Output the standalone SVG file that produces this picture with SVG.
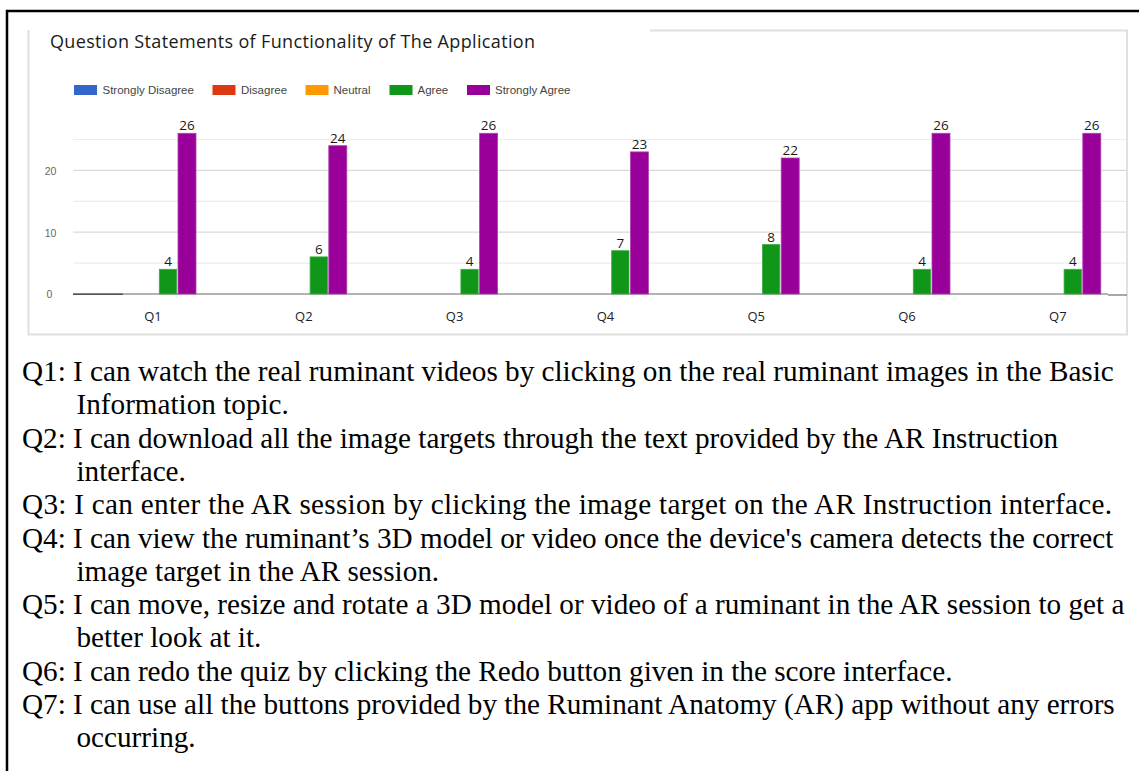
<svg xmlns="http://www.w3.org/2000/svg" width="1139" height="771" viewBox="0 0 1139 771">
  <style>
    .title { font-family: "Open Sans", "Noto Sans", sans-serif; font-size: 18px; fill: #1a1a1a; }
    .legend { font-family: "Liberation Sans", Arial, sans-serif; font-size: 11.5px; fill: #444; }
    .axis { font-family: "Liberation Sans", Arial, sans-serif; font-size: 10.5px; fill: #666; text-anchor: middle; }
    .cat { font-family: "Open Sans", "Noto Sans", sans-serif; font-size: 13px; fill: #222; text-anchor: middle; }
    .val { font-family: "Open Sans", "Noto Sans", sans-serif; font-size: 13.5px; fill: #1a1a1a; text-anchor: middle; }
    .body { font-family: "Liberation Serif", "Times New Roman", serif; font-size: 29.2px; fill: #000; }
    .grid-minor { stroke: #ececec; stroke-width: 1.2; }
    .grid-major { stroke: #d9d9d9; stroke-width: 1.3; }
    .agree { fill: #109618; stroke: #3aab40; stroke-width: 0.8; }
    .sagree { fill: #990099; stroke: #b040b0; stroke-width: 0.8; }
  </style>

  <!-- page frame: left and top rules -->
  <path d="M7,771 V11 H1139" fill="none" stroke="#000" stroke-width="2.5"/>

  <!-- chart card -->
  <g id="chart-card" fill="none" stroke="#e0e0e0" stroke-width="2">
    <path d="M28.5,30 V334.5 H1127 V30.5 H650"/>
  </g>

  <!-- title -->
  <g id="title">
    <text class="title" x="50" y="47.7" textLength="485">Question Statements of Functionality of The Application</text>
  </g>

  <!-- legend -->
  <g id="legend">
    <rect x="74" y="85" width="23" height="10" fill="#3366cc"/>
    <text class="legend" x="102.5" y="94">Strongly Disagree</text>
    <rect x="212.5" y="85" width="23" height="10" fill="#dc3912"/>
    <text class="legend" x="241" y="94">Disagree</text>
    <rect x="305.5" y="85" width="23" height="10" fill="#ff9900"/>
    <text class="legend" x="333.5" y="94">Neutral</text>
    <rect x="389.5" y="85" width="23" height="10" fill="#109618"/>
    <text class="legend" x="417.5" y="94">Agree</text>
    <rect x="467" y="85" width="23" height="10" fill="#990099"/>
    <text class="legend" x="495" y="94">Strongly Agree</text>
  </g>

  <!-- gridlines and axis -->
  <g id="grid">
    <line class="grid-minor" x1="73" y1="139.5" x2="1126" y2="139.5"/>
    <line class="grid-major" x1="73" y1="170.4" x2="1126" y2="170.4"/>
    <line class="grid-minor" x1="73" y1="201.3" x2="1126" y2="201.3"/>
    <line class="grid-major" x1="73" y1="232.2" x2="1126" y2="232.2"/>
    <line class="grid-minor" x1="73" y1="263.1" x2="1126" y2="263.1"/>
    <line x1="73" y1="294" x2="1108" y2="294" stroke="#9a9a9a" stroke-width="1.3"/>
    <line x1="73" y1="294.2" x2="123" y2="294.2" stroke="#555" stroke-width="1.6"/>
    <line x1="1108" y1="295" x2="1127" y2="295" stroke="#777" stroke-width="1.3"/>
    <text class="axis" x="50.5" y="175">20</text>
    <text class="axis" x="50.5" y="236.5">10</text>
    <text class="axis" x="49.5" y="298">0</text>
  </g>

  <!-- bars: Agree (green) and Strongly Agree (purple) per question -->
  <g id="q1">
    <rect class="agree" x="159.3" y="269.3" width="17.3" height="24.7"/>
    <rect class="sagree" x="178" y="133.3" width="18" height="160.7"/>
    <text class="val" x="168" y="266.3">4</text>
    <text class="val" x="187" y="130.3">26</text>
    <text class="cat" x="153" y="321">Q1</text>
  </g>
  <g id="q2">
    <rect class="agree" x="310.1" y="256.9" width="17.3" height="37.1"/>
    <rect class="sagree" x="328.8" y="145.7" width="18" height="148.3"/>
    <text class="val" x="318.8" y="253.9">6</text>
    <text class="val" x="337.8" y="142.7">24</text>
    <text class="cat" x="303.8" y="321">Q2</text>
  </g>
  <g id="q3">
    <rect class="agree" x="460.9" y="269.3" width="17.3" height="24.7"/>
    <rect class="sagree" x="479.6" y="133.3" width="18" height="160.7"/>
    <text class="val" x="469.6" y="266.3">4</text>
    <text class="val" x="488.6" y="130.3">26</text>
    <text class="cat" x="454.6" y="321">Q3</text>
  </g>
  <g id="q4">
    <rect class="agree" x="611.7" y="250.7" width="17.3" height="43.3"/>
    <rect class="sagree" x="630.4" y="151.9" width="18" height="142.1"/>
    <text class="val" x="620.4" y="247.7">7</text>
    <text class="val" x="639.4" y="148.9">23</text>
    <text class="cat" x="605.4" y="321">Q4</text>
  </g>
  <g id="q5">
    <rect class="agree" x="762.5" y="244.6" width="17.3" height="49.4"/>
    <rect class="sagree" x="781.2" y="158" width="18" height="136"/>
    <text class="val" x="771.2" y="241.6">8</text>
    <text class="val" x="790.2" y="155">22</text>
    <text class="cat" x="756.2" y="321">Q5</text>
  </g>
  <g id="q6">
    <rect class="agree" x="913.3" y="269.3" width="17.3" height="24.7"/>
    <rect class="sagree" x="932" y="133.3" width="18" height="160.7"/>
    <text class="val" x="922" y="266.3">4</text>
    <text class="val" x="941" y="130.3">26</text>
    <text class="cat" x="907" y="321">Q6</text>
  </g>
  <g id="q7">
    <rect class="agree" x="1064.1" y="269.3" width="17.3" height="24.7"/>
    <rect class="sagree" x="1082.8" y="133.3" width="18" height="160.7"/>
    <text class="val" x="1072.8" y="266.3">4</text>
    <text class="val" x="1091.8" y="130.3">26</text>
    <text class="cat" x="1057.8" y="321">Q7</text>
  </g>

  <!-- question statements -->
  <g id="statements" class="body">
    <text class="body" x="22" y="381">Q1: I can watch the real ruminant videos by clicking on the real ruminant images in the Basic</text>
    <text class="body" x="76.5" y="414.3">Information topic.</text>
    <text class="body" x="22" y="447.6">Q2: I can download all the image targets through the text provided by the AR Instruction</text>
    <text class="body" x="76.5" y="480.9">interface.</text>
    <text class="body" x="22" y="514.2" textLength="1090">Q3: I can enter the AR session by clicking the image target on the AR Instruction interface.</text>
    <text class="body" x="22" y="547.5">Q4: I can view the ruminant’s 3D model or video once the device's camera detects the correct</text>
    <text class="body" x="76.5" y="580.8">image target in the AR session.</text>
    <text class="body" x="22" y="614.1">Q5: I can move, resize and rotate a 3D model or video of a ruminant in the AR session to get a</text>
    <text class="body" x="76.5" y="647.4">better look at it.</text>
    <text class="body" x="22" y="680.7">Q6: I can redo the quiz by clicking the Redo button given in the score interface.</text>
    <text class="body" x="22" y="714">Q7: I can use all the buttons provided by the Ruminant Anatomy (AR) app without any errors</text>
    <text class="body" x="76.5" y="747.3">occurring.</text>
  </g>
</svg>
